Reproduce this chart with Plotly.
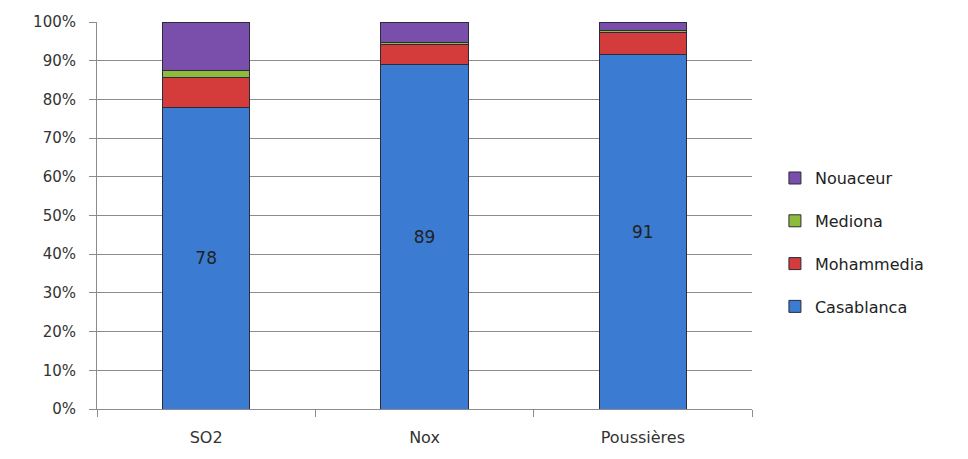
import plotly.graph_objects as go

categories = ["SO2", "Nox", "Poussières"]
casablanca = [77.8, 89, 91.5]
mohammedia = [7.9, 5.3, 5.7]
mediona = [1.7, 0.4, 0.5]
nouaceur = [12.6, 5.3, 2.3]
labels_casa = ["78", "89", "91"]

series = [
    ("Casablanca", casablanca, "#3b7bd2", labels_casa, 4),
    ("Mohammedia", mohammedia, "#d43b3b", None, 3),
    ("Mediona", mediona, "#8fbb3c", None, 2),
    ("Nouaceur", nouaceur, "#7a4fab", None, 1),
]

fig = go.Figure()
for name, vals, color, txt, rank in series:
    fig.add_trace(go.Bar(
        x=categories, y=vals, name=name,
        marker=dict(color=color, line=dict(color="#2b2b3a", width=1)),
        text=txt, textposition="inside" if txt else "none",
        insidetextanchor="middle",
        textfont=dict(color="#222222", size=17, family="DejaVu Sans"),
        legendrank=rank, legendgroup=name, hoverinfo="y",
    ))

fig.update_layout(
    barmode="stack",
    bargap=0.6,
    width=968, height=459,
    margin=dict(l=97, r=216, t=22, b=48),
    plot_bgcolor="white", paper_bgcolor="white",
    font=dict(family="DejaVu Sans", size=15, color="#333333"),
    legend=dict(traceorder="grouped", tracegroupgap=19,
                x=1.035, xanchor="left", y=0.43, yanchor="middle",
                font=dict(size=16, color="#222222"),
                itemwidth=30),
    showlegend=True,
)
fig.update_yaxes(range=[0, 100], dtick=10, ticksuffix="%",
                 showgrid=True, gridcolor="#8c8c8c", gridwidth=1,
                 showline=True, linecolor="#8c8c8c", ticks="outside",
                 tickcolor="#8c8c8c", ticklen=7, zeroline=False,
                 ticklabelstandoff=10)
fig.update_xaxes(showline=True, linecolor="#8c8c8c", ticks="outside",
                 tickson="boundaries", tickcolor="#8c8c8c", ticklen=7,
                 tickfont=dict(size=16), ticklabelstandoff=14)
fig.write_html("out.html")
